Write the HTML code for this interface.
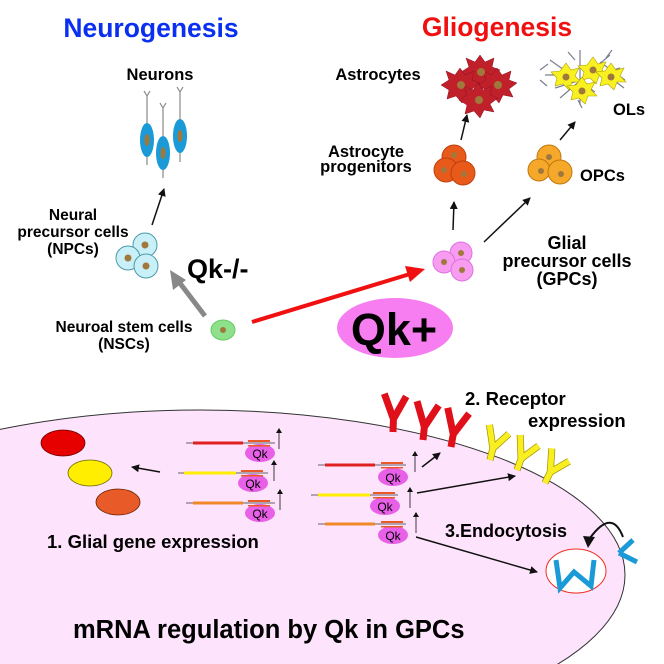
<!DOCTYPE html>
<html><head><meta charset="utf-8"><style>
html,body{margin:0;background:#fff;overflow:hidden;width:664px;height:664px}
svg{display:block;font-family:"Liberation Sans",sans-serif;font-weight:bold}
</style></head><body>
<svg width="664" height="664" viewBox="0 0 664 664">
<defs>
<marker id="ah" markerWidth="8" markerHeight="8" refX="7" refY="4" orient="auto" markerUnits="userSpaceOnUse"><path d="M0,0 L8,4 L0,8 z" fill="#111"/></marker>
<marker id="ahs" markerWidth="5" markerHeight="6" refX="4" refY="3" orient="auto" markerUnits="userSpaceOnUse"><path d="M0,0 L5,3 L0,6 z" fill="#111"/></marker>
<g id="Yr"><path d="M0,0 V-13 L-10,-38 M0,-13 L12,-36" stroke="#e0101a" stroke-width="7" fill="none" stroke-linejoin="bevel"/></g>
<g id="Yy"><path d="M0,0 V-12 L-9,-34 M0,-12 L12,-30" stroke="#a09000" stroke-width="7" fill="none" stroke-linejoin="bevel"/><path d="M0,0 V-12 L-9,-34 M0,-12 L12,-30" stroke="#f8ee20" stroke-width="5.6" fill="none" stroke-linejoin="bevel"/></g>
</defs>
<!-- cell -->
<ellipse cx="200" cy="575" rx="425" ry="165" fill="#fde3fb" stroke="#333" stroke-width="1"/>

<text x="151" y="37" font-size="26.5" fill="#0b2ff0" text-anchor="middle">Neurogenesis</text>
<text x="497" y="36" font-size="26.5" fill="#f01010" text-anchor="middle">Gliogenesis</text>

<text x="160" y="80" font-size="16.5" text-anchor="middle">Neurons</text>
<g stroke="#888" stroke-width="1.2" fill="none">
<path d="M147,96 V165 M144,91 L147,96 L150,91"/>
<path d="M163,108 V178 M160,103 L163,108 L166,103"/>
<path d="M180,92 V162 M177,87 L180,92 L183,87"/>
</g>
<g fill="#1a9ad6"><ellipse cx="147" cy="140" rx="7" ry="17"/><ellipse cx="163" cy="153" rx="7" ry="17"/><ellipse cx="180" cy="136" rx="7" ry="17"/></g>
<g fill="#a0783c"><ellipse cx="147" cy="140" rx="2.5" ry="6"/><ellipse cx="163" cy="153" rx="2.5" ry="6"/><ellipse cx="180" cy="136" rx="2.5" ry="6"/></g>
<line x1="152" y1="225" x2="164" y2="189" stroke="#111" stroke-width="1.5" marker-end="url(#ah)"/>

<g font-size="15.5" text-anchor="middle"><text x="73" y="220">Neural</text><text x="73" y="237">precursor cells</text><text x="73" y="254">(NPCs)</text></g>
<g fill="#c9f0f8" stroke="#4a9aa8" stroke-width="1"><circle cx="145" cy="245" r="12"/><circle cx="128" cy="258" r="12"/><circle cx="146" cy="266" r="12"/></g>
<g fill="#a0783c"><circle cx="145" cy="245" r="3.5"/><circle cx="128" cy="258" r="3.5"/><circle cx="146" cy="266" r="3.5"/></g>
<text x="187" y="278" font-size="27">Qk-/-</text>
<line x1="205" y1="316" x2="176" y2="278" stroke="#888" stroke-width="5"/>
<path d="M170,270 L186,280 L173,290 z" fill="#888"/>
<g font-size="15.5" text-anchor="middle"><text x="124" y="332">Neuroal stem cells</text><text x="124" y="349">(NSCs)</text></g>
<ellipse cx="223" cy="330" rx="12" ry="10" fill="#8ee08a" stroke="#6c6" stroke-width="1"/>
<circle cx="223" cy="330" r="3" fill="#a0783c"/>
<line x1="252" y1="322" x2="410" y2="274" stroke="#f01010" stroke-width="4"/>
<path d="M425,269 L405,266 L410,282 z" fill="#f01010"/>
<ellipse cx="395" cy="328" rx="58" ry="30" fill="#f77ef0"/>
<text x="394" y="345" font-size="45" text-anchor="middle">Qk+</text>

<!-- GPCs -->
<g fill="#f79cf0" stroke="#e070e0" stroke-width="1"><circle cx="461" cy="253" r="11"/><circle cx="444" cy="262" r="11"/><circle cx="462" cy="270" r="11"/></g>
<g fill="#a0783c"><circle cx="461" cy="253" r="3"/><circle cx="444" cy="262" r="3"/><circle cx="462" cy="270" r="3"/></g>
<g font-size="18" text-anchor="middle"><text x="567" y="249">Glial</text><text x="567" y="267">precursor cells</text><text x="567" y="285">(GPCs)</text></g>
<line x1="453" y1="230" x2="454" y2="202" stroke="#111" stroke-width="1.5" marker-end="url(#ah)"/>
<line x1="484" y1="242" x2="530" y2="198" stroke="#111" stroke-width="1.5" marker-end="url(#ah)"/>

<!-- astro progenitors -->
<g font-size="16.5" text-anchor="middle"><text x="366" y="157">Astrocyte</text><text x="366" y="172">progenitors</text></g>
<g fill="#e85a1a" stroke="#c04010" stroke-width="1"><circle cx="454" cy="157" r="12"/><circle cx="446" cy="170" r="12"/><circle cx="463" cy="173" r="12"/></g>
<g fill="#a0783c"><circle cx="454" cy="155" r="3"/><circle cx="444" cy="170" r="3"/><circle cx="464" cy="174" r="3"/></g>
<line x1="461" y1="140" x2="467" y2="115" stroke="#111" stroke-width="1.5" marker-end="url(#ah)"/>

<text x="378" y="80" font-size="16.5" text-anchor="middle">Astrocytes</text>
<g fill="#c0202a" stroke="#901020" stroke-width="0.5">
<polygon points="480,55 485,62 494,58 492,67 500,70 492,76 496,84 486,82 482,90 476,83 467,86 469,77 461,72 469,67 466,58 475,62"/>
<polygon points="460,68 465,75 474,71 472,80 480,83 472,89 476,97 466,95 462,103 456,96 447,99 449,90 441,85 449,80 446,71 455,75"/>
<polygon points="497,68 502,75 511,71 509,80 517,83 509,89 513,97 503,95 499,103 493,96 484,99 486,90 478,85 486,80 483,71 492,75"/>
<polygon points="478,83 483,90 492,86 490,95 498,98 490,104 494,112 484,110 480,118 474,111 465,114 467,105 459,100 467,95 464,86 473,90"/>
</g>
<g fill="#a0783c"><circle cx="481" cy="72" r="4"/><circle cx="461" cy="85" r="4"/><circle cx="498" cy="85" r="4"/><circle cx="479" cy="100" r="4"/></g>

<!-- OPCs -->
<g fill="#f5a82a" stroke="#c07810" stroke-width="1"><circle cx="549" cy="157" r="12"/><circle cx="539" cy="170" r="11"/><circle cx="560" cy="172" r="12"/></g>
<g fill="#a0783c"><circle cx="549" cy="157" r="3"/><circle cx="541" cy="171" r="3"/><circle cx="561" cy="174" r="3"/></g>
<text x="580" y="181" font-size="16.5">OPCs</text>
<line x1="560" y1="140" x2="575" y2="122" stroke="#111" stroke-width="1.5" marker-end="url(#ah)"/>

<!-- OLs -->
<g stroke="#7a8090" stroke-width="1.2" fill="none">
<path d="M545,75 L570,75 M550,60 L595,92 M560,98 L610,55 M580,50 V105 M600,62 L625,80 M555,88 L620,68 M540,70 L548,64 M540,80 L547,86 M612,50 L606,58 M624,88 L616,82 M582,108 L578,100 M568,52 L575,60"/>
</g>
<g fill="#f8f020" stroke="#b0a000" stroke-width="0.6">
<polygon points="593,57 598,64 606,62 602,70 608,76 599,76 596,84 590,78 582,80 584,72 578,66 587,65"/>
<polygon points="566,63 571,70 579,68 575,76 581,82 572,82 569,90 563,84 555,86 557,78 551,72 560,71"/>
<polygon points="611,63 616,70 624,68 620,76 626,82 617,82 614,90 608,84 600,86 602,78 596,72 605,71"/>
<polygon points="582,77 587,84 595,82 591,90 597,96 588,96 585,104 579,98 571,100 573,92 567,86 576,85"/>
</g>
<g fill="#a0783c"><circle cx="593" cy="70" r="3.5"/><circle cx="566" cy="77" r="3.5"/><circle cx="611" cy="77" r="3.5"/><circle cx="582" cy="91" r="3.5"/></g>
<text x="613" y="115" font-size="16.5">OLs</text>

<!-- bottom: products -->
<ellipse cx="63" cy="443" rx="22" ry="13" fill="#e60000" stroke="#600" stroke-width="0.8"/>
<ellipse cx="90" cy="473" rx="22" ry="13" fill="#ffee00" stroke="#660" stroke-width="0.8"/>
<ellipse cx="118" cy="502" rx="22" ry="13" fill="#e85a28" stroke="#620" stroke-width="0.8"/>
<line x1="160" y1="472" x2="132" y2="467" stroke="#111" stroke-width="1.5" marker-end="url(#ah)"/>

<!-- mRNA rows -->
<g>
<line x1="186" y1="443" x2="275" y2="443" stroke="#333" stroke-width="0.8"/>
<line x1="193" y1="443" x2="243" y2="443" stroke="#e02020" stroke-width="3"/>
<ellipse cx="260" cy="453" rx="15" ry="9" fill="#e860e8"/><text x="260" y="458" font-size="12" text-anchor="middle" font-weight="normal">Qk</text>
<line x1="279" y1="449" x2="279" y2="429" stroke="#111" stroke-width="0.8" marker-end="url(#ahs)"/>
</g>
<g>
<line x1="178" y1="473" x2="268" y2="473" stroke="#333" stroke-width="0.8"/>
<line x1="184" y1="473" x2="236" y2="473" stroke="#ffee00" stroke-width="3"/>
<ellipse cx="253" cy="483" rx="15" ry="9" fill="#e860e8"/><text x="253" y="488" font-size="12" text-anchor="middle" font-weight="normal">Qk</text>
<line x1="274" y1="481" x2="274" y2="461" stroke="#111" stroke-width="0.8" marker-end="url(#ahs)"/>
</g>
<g>
<line x1="186" y1="503" x2="275" y2="503" stroke="#333" stroke-width="0.8"/>
<line x1="193" y1="503" x2="243" y2="503" stroke="#f08828" stroke-width="3"/>
<ellipse cx="260" cy="513" rx="15" ry="9" fill="#e860e8"/><text x="260" y="518" font-size="12" text-anchor="middle" font-weight="normal">Qk</text>
<line x1="280" y1="510" x2="280" y2="490" stroke="#111" stroke-width="0.8" marker-end="url(#ahs)"/>
</g>
<g>
<line x1="318" y1="465" x2="406" y2="465" stroke="#333" stroke-width="0.8"/>
<line x1="325" y1="465" x2="375" y2="465" stroke="#e02020" stroke-width="3"/>
<ellipse cx="393" cy="477" rx="15" ry="9" fill="#e860e8"/><text x="393" y="482" font-size="12" text-anchor="middle" font-weight="normal">Qk</text>
<line x1="415" y1="472" x2="415" y2="452" stroke="#111" stroke-width="0.8" marker-end="url(#ahs)"/>
</g>
<g>
<line x1="311" y1="495" x2="398" y2="495" stroke="#333" stroke-width="0.8"/>
<line x1="318" y1="495" x2="370" y2="495" stroke="#ffee00" stroke-width="3"/>
<ellipse cx="385" cy="506" rx="15" ry="9" fill="#e860e8"/><text x="385" y="511" font-size="12" text-anchor="middle" font-weight="normal">Qk</text>
<line x1="410" y1="508" x2="410" y2="488" stroke="#111" stroke-width="0.8" marker-end="url(#ahs)"/>
</g>
<g>
<line x1="318" y1="524" x2="406" y2="524" stroke="#333" stroke-width="0.8"/>
<line x1="325" y1="524" x2="375" y2="524" stroke="#f08828" stroke-width="3"/>
<ellipse cx="393" cy="535" rx="15" ry="9" fill="#e860e8"/><text x="393" y="540" font-size="12" text-anchor="middle" font-weight="normal">Qk</text>
<line x1="416" y1="533" x2="416" y2="513" stroke="#111" stroke-width="0.8" marker-end="url(#ahs)"/>
</g>
<!-- UTR dots -->
<g fill="#e85a28">
<rect x="248" y="440" width="22" height="2"/><rect x="248" y="445" width="22" height="1.5"/>
<rect x="241" y="470" width="22" height="2"/><rect x="241" y="475" width="22" height="1.5"/>
<rect x="248" y="500" width="22" height="2"/><rect x="248" y="505" width="22" height="1.5"/>
<rect x="381" y="462" width="22" height="2"/><rect x="381" y="467" width="22" height="1.5"/>
<rect x="373" y="492" width="22" height="2"/><rect x="373" y="497" width="22" height="1.5"/>
<rect x="381" y="521" width="22" height="2"/><rect x="381" y="526" width="22" height="1.5"/>
</g>

<text x="47" y="548" font-size="18.5">1. Glial gene expression</text>
<g font-size="18.5"><text x="465" y="405">2. Receptor</text><text x="528" y="427">expression</text></g>
<text x="445" y="537" font-size="18">3.Endocytosis</text>
<text x="73" y="638" font-size="25.5">mRNA regulation by Qk in GPCs</text>

<!-- receptors -->
<use href="#Yr" transform="translate(393,432) rotate(2)"/>
<use href="#Yr" transform="translate(423,440) rotate(6)"/>
<use href="#Yr" transform="translate(451,447) rotate(10)"/>
<use href="#Yy" transform="translate(490,460) rotate(14)"/>
<use href="#Yy" transform="translate(517,470) rotate(20)"/>
<use href="#Yy" transform="translate(545,483) rotate(26)"/>
<line x1="422" y1="467" x2="440" y2="453" stroke="#111" stroke-width="1.5" marker-end="url(#ah)"/>
<line x1="417" y1="493" x2="515" y2="476" stroke="#111" stroke-width="1.5" marker-end="url(#ah)"/>
<line x1="416" y1="537" x2="537" y2="572" stroke="#111" stroke-width="1.5" marker-end="url(#ah)"/>

<!-- endocytosis -->
<ellipse cx="576" cy="571" rx="30" ry="22" fill="#fff" stroke="#f03020" stroke-width="1"/>
<g stroke="#1a9ad6" stroke-width="5" fill="none">
<path d="M556,560 L560,588 L574,572 L591,586 L594,560"/>
<path d="M619,553 L637,562 M633,540 L619,553"/>
</g>
<path d="M623,537 Q612,508 590,538" stroke="#111" stroke-width="2" fill="none"/>
<path d="M583,536 L588,548 L595,537 z" fill="#111"/>
</svg>
</body></html>
